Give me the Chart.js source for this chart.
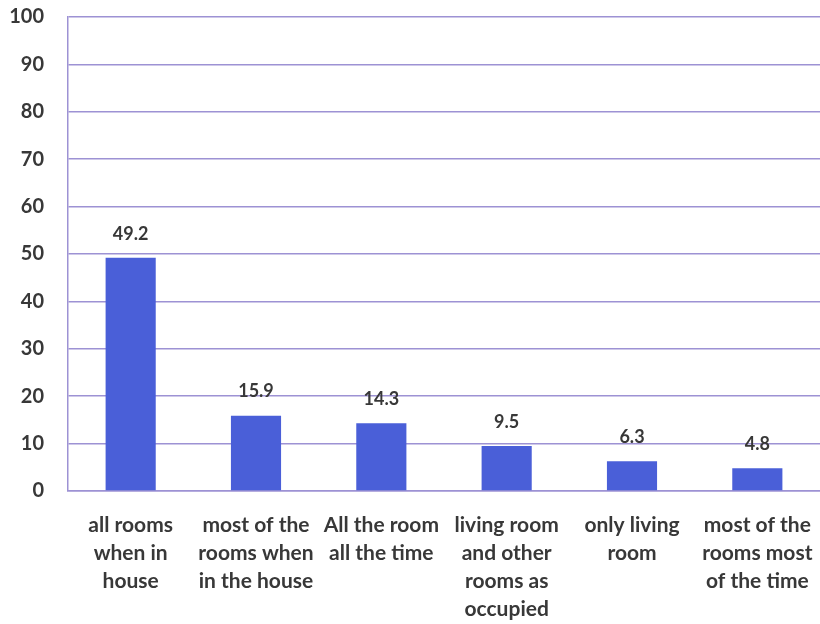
<!DOCTYPE html>
<html lang="en">
  <head>
    <meta charset="UTF-8" />
    <title>Rooms heated</title>
    <script src="https://cdn.jsdelivr.net/npm/chart.js"></script>
    <style>
      html, body { margin: 0; padding: 0; background: #fff; }
      #wrap { width: 820px; height: 624px; }
    </style>
  </head>
  <body>
    <div id="wrap"><canvas id="myChart" width="820" height="624"></canvas></div>
    <script>
      // categories (multi-line as in the original)
      var categories = [
        ["all rooms", "when in", "house"],
        ["most of the", "rooms when", "in the house"],
        ["All the room", "all the time"],
        ["living room", "and other", "rooms as", "occupied"],
        ["only living", "room"],
        ["most of the", "rooms most", "of the time"]
      ];
      var values = [49.2, 15.9, 14.3, 9.5, 6.3, 4.8];
      var yTicks = [0, 10, 20, 30, 40, 50, 60, 70, 80, 90, 100];

      var gridColor = "#9d92d4";
      var textColor = "#383838";

      // draws the value above each bar
      var valueLabels = {
        id: "valueLabels",
        afterDatasetsDraw: function (chart) {
          var c = chart.ctx;
          var meta = chart.getDatasetMeta(0);
          c.save();
          c.font = "bold 18px Lato";
          c.fillStyle = textColor;
          c.textAlign = "center";
          c.textBaseline = "middle";
          meta.data.forEach(function (bar, i) {
            c.fillText(values[i].toFixed(1), bar.x, bar.y - 24);
          });
          c.restore();
        }
      };

      var ctx = document.getElementById("myChart").getContext("2d");
      new Chart(ctx, {
        type: "bar",
        data: {
          labels: categories,
          datasets: [
            {
              data: values,
              backgroundColor: "#4a5fd8",
              categoryPercentage: 1,
              barPercentage: 0.4
            }
          ]
        },
        options: {
          responsive: false,
          animation: false,
          layout: { padding: { top: 17, right: 0, left: 0, bottom: 0 } },
          plugins: {
            legend: { display: false },
            tooltip: { enabled: false }
          },
          scales: {
            x: {
              grid: { display: false, drawTicks: false },
              border: { color: gridColor, width: 1.5 },
              ticks: {
                color: textColor,
                font: { family: "Lato", size: 21, weight: "bold", lineHeight: 1.33 },
                maxRotation: 0,
                autoSkip: false,
                padding: 20
              },
              afterFit: function (scale) {
                scale.height = 133;
                scale.paddingLeft = 0;
                scale.paddingRight = 0;
              }
            },
            y: {
              min: 0,
              max: 100,
              afterBuildTicks: function (scale) {
                scale.ticks = yTicks.map(function (v) { return { value: v }; });
              },
              grid: { color: gridColor, lineWidth: 1.5, drawTicks: false },
              border: { color: gridColor, width: 1.5 },
              ticks: {
                color: textColor,
                font: { family: "Lato", size: 20, weight: "bold" },
                padding: 24
              },
              afterFit: function (scale) {
                scale.width = 68;
                scale.paddingTop = 0;
                scale.paddingBottom = 0;
              }
            }
          }
        },
        plugins: [valueLabels]
      });
    </script>
  </body>
</html>
